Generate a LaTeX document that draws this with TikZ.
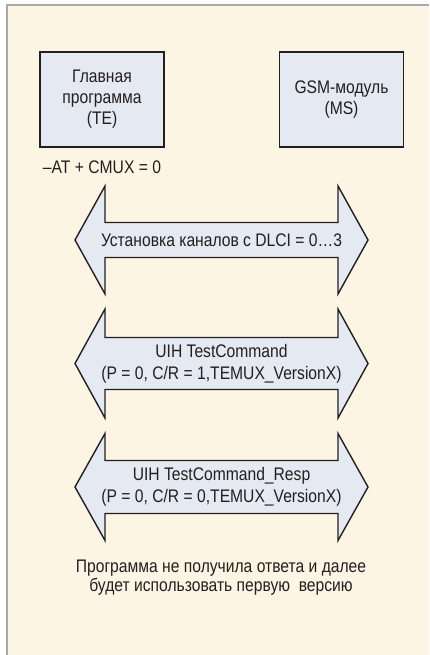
\documentclass[tikz,border=0pt]{standalone}
\usepackage{fontspec}
\setmainfont[FakeStretch=0.86]{Liberation Sans}
\usetikzlibrary{positioning}
\definecolor{cream}{RGB}{253,245,228}
\definecolor{boxfill}{RGB}{228,233,242}
\definecolor{framegray}{RGB}{167,169,172}
\definecolor{ink}{RGB}{35,31,32}
% double-headed block arrow: centre y, half shaft, half head
\newcommand{\linkarrow}[3]{%
  \draw[link] (75,#1) -- (105,#1-#3) -- (105,#1-#2) -- (338,#1-#2) -- (338,#1-#3)
    -- (368,#1) -- (338,#1+#3) -- (338,#1+#2) -- (105,#1+#2) -- (105,#1+#3) -- cycle;}

\begin{document}
\begin{tikzpicture}[x=1pt,y=-1pt,
  box/.style={draw=ink,line width=1.4pt,fill=boxfill,minimum width=124pt,
    minimum height=95pt,align=center,text=ink,font=\fontsize{18.2}{21}\selectfont},
  msg/.style={align=center,inner sep=0pt,text=ink,font=\fontsize{18.2}{22}\selectfont},
  link/.style={draw=ink,line width=1.4pt,fill=boxfill,line join=miter}]
\useasboundingbox (0,0) rectangle (429,655);
% frame
\fill[white] (0,0) rectangle (429,655);
\fill[cream] (7,5) rectangle (429,655);
\draw[framegray,line width=2pt] (7,4.5) -- (7,655);
\draw[framegray,line width=1.5pt] (6,5.25) -- (429,5.25);
% terminals
\node[box] (te) at (102,99.5) {Главная\\программа\\(TE)};
\node[box] (ms) at (341.5,99.5) {GSM-модуль\\(MS)};
\node[msg,below=12.5pt of te] (cmux) {–AT + CMUX = 0};
% exchanges
\linkarrow{240}{17.5}{54}
\node[msg] (setup) at (221.5,240) {Установка каналов с DLCI = 0…3};
\linkarrow{363.5}{26}{54.5}
\node[msg] (cmd) at (221.5,363.5) {UIH TestCommand\\(P = 0, C/R = 1,TEMUX\_VersionX)};
\linkarrow{487}{26.5}{53.5}
\node[msg] (resp) at (221.5,487) {UIH TestCommand\_Resp\\(P = 0, C/R = 0,TEMUX\_VersionX)};
\node[msg,font=\fontsize{18.2}{19}\selectfont] (note) at (221,577.5)
  {Программа не получила ответа и далее\\будет использовать первую~ версию};
\end{tikzpicture}
\end{document}
